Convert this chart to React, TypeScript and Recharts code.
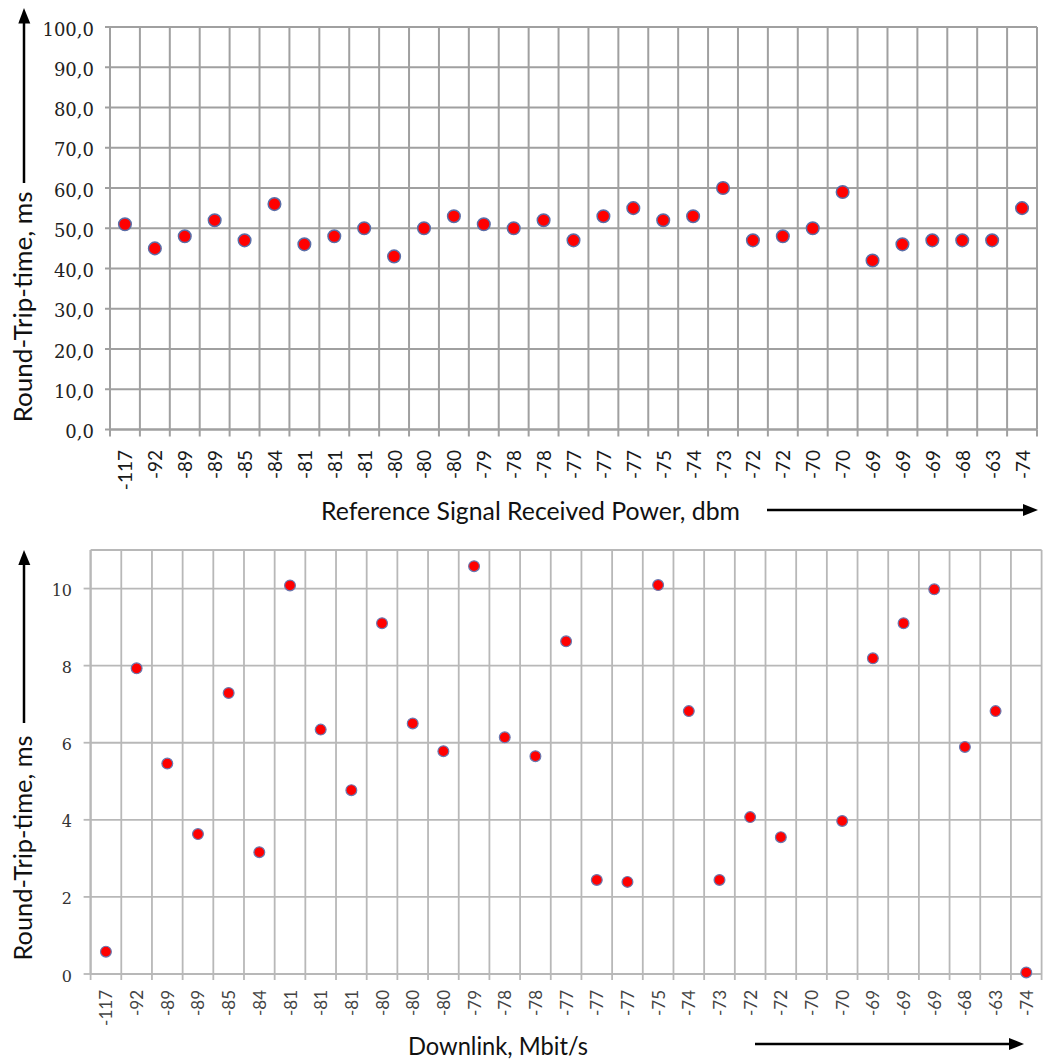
import React from 'react';
import { ScatterChart, Scatter, XAxis, YAxis, CartesianGrid } from 'recharts';

// Category labels (Reference Signal Received Power, dbm)
const rsrpLabels = ['-117', '-92', '-89', '-89', '-85', '-84', '-81', '-81', '-81', '-80', '-80', '-80', '-79', '-78', '-78', '-77', '-77', '-77', '-75', '-74', '-73', '-72', '-72', '-70', '-70', '-69', '-69', '-69', '-68', '-63', '-74'];

// Top chart: Round-Trip-time, ms
const rttByRsrp = [51, 45, 48, 52, 47, 56, 46, 48, 50, 43, 50, 53, 51, 50, 52, 47, 53, 55, 52, 53, 60, 47, 48, 50, 59, 42, 46, 47, 47, 47, 55];

// Bottom chart: Round-Trip-time, ms (one category has no point)
const rttByDownlink: (number | null)[] = [0.58, 7.93, 5.46, 3.63, 7.29, 3.16, 10.08, 6.34, 4.77, 9.1, 6.5, 5.78, 10.58, 6.14, 5.65, 8.63, 2.44, 2.39, 10.09, 6.82, 2.44, 4.07, 3.55, null, 3.97, 8.19, 9.1, 9.98, 5.89, 6.82, 0.04];

const topYTicks = [0, 10, 20, 30, 40, 50, 60, 70, 80, 90, 100];
const bottomYTicks = [0, 2, 4, 6, 8, 10];

const nCat = rsrpLabels.length;
const boundaryTicks = rsrpLabels.map((_, i) => i - 0.5).concat([nCat - 0.5]);
const xDomain: [number, number] = [-0.5, nCat - 0.5];

const topData = rttByRsrp.map((v, i) => ({ i, v }));
const bottomData = rttByDownlink
  .map((v, i) => ({ i, v }))
  .filter((d) => d.v !== null) as { i: number; v: number }[];

const fmtComma = (v: number) => v.toFixed(1).replace('.', ',');

const TopYTick = (p: any) => (
  <text x={p.x} y={p.y + 2} textAnchor="end" dominantBaseline="central" fontFamily="DejaVu Serif" fontSize={18} fill="#222">
    {fmtComma(p.payload.value)}
  </text>
);

const BottomYTick = (p: any) => (
  <text x={p.x} y={p.y + 2} textAnchor="end" dominantBaseline="central" fontFamily="DejaVu Serif" fontSize={16} fill="#333">
    {String(p.payload.value)}
  </text>
);

// Tick at each category boundary; label for category k drawn half a band to the right.
const makeXLabelTick = (offset: number, size: number, color: string) => (p: any) => {
  const k = p.index;
  if (k >= nCat) return <g />;
  const half = (p.width || 0) / nCat / 2;
  return (
    <text
      transform={`translate(${p.x + half},${p.y + offset}) rotate(-90)`}
      textAnchor="end"
      dominantBaseline="central"
      fontFamily="Lato"
      fontSize={size}
      fill={color}
    >
      {rsrpLabels[k]}
    </text>
  );
};

const TopXLabel = makeXLabelTick(13.5, 19, '#1a1a1a');
const BottomXLabel = makeXLabelTick(10, 17, '#444');

const TopDot = (p: any) => <circle cx={p.cx} cy={p.cy} r={6.3} fill="#ff0000" stroke="#5a6ea8" strokeWidth={1.5} />;
const BottomDot = (p: any) => <circle cx={p.cx} cy={p.cy} r={5.4} fill="#ff0000" stroke="#6a78b0" strokeWidth={1.2} />;

const topGrid = '#a0a0a0';
const botGrid = '#b8b8b8';

export default function App() {
  return (
    <div style={{ position: 'absolute', left: 0, top: 0, width: 1045, height: 1061, background: '#fff' }}>
      <div style={{ position: 'absolute', left: 0, top: 0 }}>
        <ScatterChart width={1045} height={530} margin={{ top: 27, right: 8, bottom: 0, left: 0 }}>
          <CartesianGrid stroke={topGrid} strokeWidth={2} />
          <XAxis
            dataKey="i"
            type="number"
            domain={xDomain}
            ticks={boundaryTicks}
            interval={0}
            height={100.5}
            tickSize={7}
            tickMargin={0}
            tick={TopXLabel}
            axisLine={{ stroke: topGrid, strokeWidth: 2 }}
            tickLine={{ stroke: topGrid, strokeWidth: 2 }}
          />
          <YAxis
            dataKey="v"
            type="number"
            domain={[0, 100]}
            ticks={topYTicks}
            interval={0}
            width={110}
            tickSize={5}
            tickMargin={11}
            tick={TopYTick}
            axisLine={{ stroke: topGrid, strokeWidth: 2 }}
            tickLine={{ stroke: topGrid, strokeWidth: 2 }}
          />
          <Scatter data={topData} shape={TopDot} isAnimationActive={false} />
        </ScatterChart>
      </div>
      <div style={{ position: 'absolute', left: 0, top: 530 }}>
        <ScatterChart width={1045} height={531} margin={{ top: 20, right: 3.4, bottom: 0, left: 0 }}>
          <CartesianGrid stroke={botGrid} strokeWidth={1.8} />
          <XAxis
            dataKey="i"
            type="number"
            domain={xDomain}
            ticks={boundaryTicks}
            interval={0}
            height={87}
            tickSize={6}
            tickMargin={0}
            tick={BottomXLabel}
            axisLine={{ stroke: botGrid, strokeWidth: 2 }}
            tickLine={{ stroke: botGrid, strokeWidth: 1.8 }}
          />
          <YAxis
            dataKey="v"
            type="number"
            domain={[0, 11]}
            ticks={bottomYTicks}
            interval={0}
            width={90.6}
            tickSize={7}
            tickMargin={11.6}
            tick={BottomYTick}
            axisLine={{ stroke: botGrid, strokeWidth: 2 }}
            tickLine={{ stroke: botGrid, strokeWidth: 1.8 }}
          />
          <Scatter data={bottomData} shape={BottomDot} isAnimationActive={false} />
        </ScatterChart>
      </div>
      <svg
        width={1045}
        height={1061}
        style={{ position: 'absolute', left: 0, top: 0, pointerEvents: 'none' }}
      >
        {/* Top chart titles and arrows */}
        <line x1={24} y1={183} x2={24} y2={20} stroke="#000" strokeWidth={2.5} />
        <polygon points="24,8 18.3,23.5 30.3,23.5" fill="#000" />
        <text
          transform="translate(32,307) rotate(-90)"
          textAnchor="middle"
          fontFamily="Lato"
          fontSize={25}
          fill="#111"
          textLength={231}
          lengthAdjust="spacingAndGlyphs"
        >
          Round-Trip-time, ms
        </text>
        <text x={321} y={520} fontFamily="Lato" fontSize={25} fill="#111" textLength={419} lengthAdjust="spacingAndGlyphs">
          Reference Signal Received Power, dbm
        </text>
        <line x1={767} y1={510} x2={1026} y2={510} stroke="#000" strokeWidth={2.5} />
        <polygon points="1038,510 1023,504 1023,516" fill="#000" />

        {/* Bottom chart titles and arrows */}
        <line x1={24} y1={723} x2={24} y2={562} stroke="#000" strokeWidth={2.5} />
        <polygon points="24,550 18.3,565 30.3,565" fill="#000" />
        <text
          transform="translate(32,848) rotate(-90)"
          textAnchor="middle"
          fontFamily="Lato"
          fontSize={25}
          fill="#111"
          textLength={225}
          lengthAdjust="spacingAndGlyphs"
        >
          Round-Trip-time, ms
        </text>
        <text x={408} y={1055} fontFamily="Lato" fontSize={25} fill="#111" textLength={180} lengthAdjust="spacingAndGlyphs">
          Downlink, Mbit/s
        </text>
        <line x1={755} y1={1044} x2={1012} y2={1044} stroke="#000" strokeWidth={2.5} />
        <polygon points="1024,1044 1009,1038 1009,1050" fill="#000" />
      </svg>
    </div>
  );
}
